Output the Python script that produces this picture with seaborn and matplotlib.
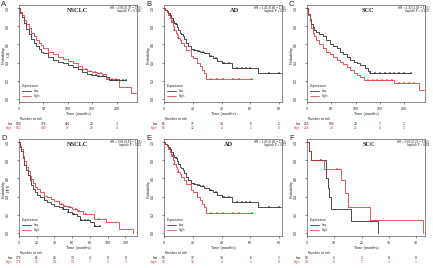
import numpy as np
import pandas as pd
import matplotlib
matplotlib.use("Agg")
import matplotlib.pyplot as plt
import seaborn as sns

sns.set_style("ticks")
plt.rcParams["font.family"] = ["Liberation Sans", "DejaVu Sans"]

LOW = "#1c1c1c"
HIGH = "#e3262b"
W, H = 433, 268

# ---- A: NSCLC OS ----
a_low_t = [0, 3, 6, 10, 15, 20, 25, 30, 35, 40, 45, 50, 60, 70, 80, 90, 100, 110, 120, 130, 140, 150, 160, 170, 178, 185, 220]
a_low_s = [1.0, 0.95, 0.90, 0.84, 0.77, 0.71, 0.66, 0.62, 0.58, 0.55, 0.52, 0.50, 0.46, 0.43, 0.41, 0.39, 0.37, 0.35, 0.33, 0.30, 0.27, 0.26, 0.255, 0.25, 0.24, 0.21, 0.21]
a_low_c = [150, 158, 165, 172, 190, 198, 206, 214, 220]
a_high_t = [0, 3, 6, 10, 15, 20, 25, 30, 35, 40, 45, 50, 60, 70, 80, 90, 100, 110, 120, 130, 140, 150, 160, 170, 178, 205, 230, 240]
a_high_s = [1.0, 0.96, 0.92, 0.87, 0.82, 0.78, 0.73, 0.69, 0.65, 0.62, 0.59, 0.56, 0.52, 0.49, 0.46, 0.44, 0.42, 0.39, 0.36, 0.33, 0.31, 0.30, 0.29, 0.27, 0.22, 0.13, 0.065, 0.065]
a_high_c = [138, 146, 155, 168, 182, 190, 198]
a_ticks = [0, 50, 100, 150, 200]
a_risk_low = [964, 376, 116, 29, 3]
a_risk_high = [962, 430, 97, 28, 4]

# ---- B / E: AD ----
b_low_t = [0, 1, 2, 3, 4, 5, 6, 7, 8, 9, 10, 11, 12, 13, 14, 15, 17, 19, 21, 23, 25, 28, 31, 34, 37, 40, 47.5, 65, 81]
b_low_s = [1.0, 0.98, 0.97, 0.95, 0.92, 0.89, 0.86, 0.84, 0.82, 0.79, 0.76, 0.73, 0.71, 0.69, 0.66, 0.62, 0.58, 0.55, 0.54, 0.53, 0.52, 0.50, 0.47, 0.45, 0.42, 0.39, 0.34, 0.28, 0.28]
b_low_c = [4, 6, 8, 21, 24, 27, 33, 36, 42, 45, 51, 54, 57, 60, 73, 80]
b_high_t = [0, 1, 2, 3, 4, 5, 6, 7, 8, 9, 10, 11, 12, 14, 15, 18.5, 20, 23, 25, 26.5, 28, 29, 61]
b_high_s = [1.0, 0.98, 0.96, 0.93, 0.89, 0.85, 0.80, 0.76, 0.73, 0.70, 0.67, 0.65, 0.62, 0.58, 0.54, 0.47, 0.45, 0.39, 0.36, 0.32, 0.29, 0.22, 0.22]
b_high_c = [7, 10, 33, 37, 41, 48, 52, 61]
b_ticks = [0, 20, 40, 60, 80]
b_risk_low = [65, 37, 14, 6, 1]
b_risk_high = [56, 12, 4, 1, 0]

# ---- C: SCC OS ----
c_low_t = [0, 3, 6, 9, 12, 15, 19, 25, 33, 40, 47, 54, 61, 68, 75, 82, 89, 96, 103, 110, 120, 125, 130, 215]
c_low_s = [1.0, 0.94, 0.88, 0.83, 0.79, 0.76, 0.74, 0.72, 0.69, 0.65, 0.61, 0.58, 0.56, 0.52, 0.49, 0.46, 0.43, 0.41, 0.39, 0.37, 0.34, 0.31, 0.28, 0.28]
c_low_c = [130, 140, 150, 160, 170, 180, 190, 200, 215]
c_high_t = [0, 3, 6, 9, 12, 15, 19, 25, 33, 40, 47, 54, 61, 68, 75, 82, 89, 96, 103, 110, 117, 180, 230, 240]
c_high_s = [1.0, 0.93, 0.86, 0.78, 0.73, 0.69, 0.65, 0.60, 0.56, 0.52, 0.49, 0.46, 0.43, 0.41, 0.38, 0.35, 0.32, 0.29, 0.26, 0.24, 0.21, 0.17, 0.10, 0.10]
c_high_c = [125, 135, 145, 155, 165, 175, 190, 200, 210, 220]
c_ticks = [0, 50, 100, 150, 200]
c_risk_low = [255, 105, 23, 7, 1]
c_risk_high = [256, 70, 21, 6, 3]

# ---- D: NSCLC PFS ----
d_low_t = [0, 1, 2, 4, 6, 8, 10, 12, 14, 16, 18, 20, 24, 28, 32, 36, 40, 45, 50, 55, 60, 65, 69, 80, 84, 91]
d_low_s = [1.0, 0.95, 0.90, 0.82, 0.75, 0.69, 0.64, 0.58, 0.53, 0.48, 0.45, 0.42, 0.39, 0.36, 0.34, 0.32, 0.30, 0.28, 0.26, 0.23, 0.21, 0.19, 0.14, 0.12, 0.08, 0.08]
d_low_c = [50, 55, 62, 70, 74, 78, 86, 91]
d_high_t = [0, 1, 2, 4, 6, 8, 10, 12, 14, 16, 18, 20, 24, 28, 32, 36, 40, 45, 50, 55, 60, 65, 72, 84, 98, 113, 128, 129]
d_high_s = [1.0, 0.96, 0.92, 0.85, 0.79, 0.73, 0.68, 0.63, 0.59, 0.55, 0.51, 0.48, 0.45, 0.41, 0.39, 0.37, 0.35, 0.32, 0.30, 0.28, 0.26, 0.24, 0.21, 0.15, 0.12, 0.04, 0.0, 0.0]
d_high_c = [48, 52, 58, 64, 68, 76, 90]
d_ticks = [0, 20, 40, 60, 80, 100, 120]
d_risk_low = [172, 61, 26, 13, 4, 0, 0]
d_risk_high = [172, 71, 29, 13, 7, 2, 1]

# ---- F: SCC PFS ----
f_low_t = [0, 0.8, 1.5, 7.0, 7.6, 8.1, 8.7, 16.3, 26.0]
f_low_s = [1.0, 0.9, 0.8, 0.6, 0.5, 0.4, 0.267, 0.133, 0.0]
f_low_c = [5.0]
f_high_t = [0, 0.6, 1.5, 6.2, 12.6, 13.8, 15.0, 23.2, 42.5]
f_high_s = [1.0, 0.9, 0.8, 0.7, 0.58, 0.44, 0.29, 0.145, 0.0]
f_high_c = [11.0]
f_ticks = [0, 10, 20, 30, 40]
f_risk_low = [10, 2, 1, 0, 0]
f_risk_high = [10, 6, 2, 1, 1]

hr_a = ["HR = 0.85 (0.76 \u2212 0.97)", "logrank P = 0.016"]
hr_b = ["HR = 1.41 (0.86 \u2212 2.33)", "logrank P = 0.17"]
hr_c = ["HR = 1.32 (1.04 \u2212 1.67)", "logrank P = 0.022"]
hr_d = ["HR = 0.81 (0.63 \u2212 1.05)", "logrank P = 0.11"]
hr_f = ["HR = 0.65 (0.25 \u2212 1.62)", "logrank P = 0.41"]

panels = [
    ("A", "NSCLC", 78, "OS", a_low_t, a_low_s, a_low_c, a_high_t, a_high_s, a_high_c, a_ticks, 242, a_risk_low, a_risk_high, hr_a),
    ("B", "AD", 89, "", b_low_t, b_low_s, b_low_c, b_high_t, b_high_s, b_high_c, b_ticks, 82, b_risk_low, b_risk_high, hr_b),
    ("C", "SCC", 80, "", c_low_t, c_low_s, c_low_c, c_high_t, c_high_s, c_high_c, c_ticks, 243, c_risk_low, c_risk_high, hr_c),
    ("D", "NSCLC", 78, "PFS", d_low_t, d_low_s, d_low_c, d_high_t, d_high_s, d_high_c, d_ticks, 133, d_risk_low, d_risk_high, hr_d),
    ("E", "AD", 84, "", b_low_t, b_low_s, b_low_c, b_high_t, b_high_s, b_high_c, b_ticks, 82, b_risk_low, b_risk_high, hr_b),
    ("F", "SCC", 81, "", f_low_t, f_low_s, f_low_c, f_high_t, f_high_s, f_high_c, f_ticks, 43.3, f_risk_low, f_risk_high, hr_f),
]

fig = plt.figure(figsize=(W / 100, H / 100), dpi=100)
fig.patch.set_facecolor("white")


def fpos(x, y):
    return x / W, 1 - y / H


def step_at(t, s, c):
    idx = np.searchsorted(np.array(t), np.array(c), side="right") - 1
    return np.array(s)[idx]


for i, p in enumerate(panels):
    (letter, title, tcx, ytag, lt, ls, lc, ht, hs, hc, ticks, xmax, rl, rh, hr) = p
    x0 = [0, 145, 288][i % 3]
    y0 = [0, 134][i // 3]
    ax = fig.add_axes([(x0 + 19) / W, 1 - (y0 + 102) / H, 118 / W, 97 / H])

    for t, s, c, col, lab in [(lt, ls, lc, LOW, "low"), (ht, hs, hc, HIGH, "high")]:
        df = pd.DataFrame({"t": t, "s": s})
        sns.lineplot(data=df, x="t", y="s", drawstyle="steps-post", estimator=None,
                     sort=False, color=col, lw=0.55, ax=ax, label=lab)
        sns.scatterplot(x=c, y=step_at(t, s, c), marker="+", s=3, color=col,
                        linewidth=0.35, ax=ax, legend=False)

    ax.set_xlim(0, xmax)
    ax.set_ylim(-0.035, 1.035)
    ax.set_xticks(ticks)
    ax.set_xticklabels([str(v) for v in ticks])
    ax.set_yticks([0, 0.2, 0.4, 0.6, 0.8, 1.0])
    ax.set_yticklabels(["0.0", "0.2", "0.4", "0.6", "0.8", "1.0"], rotation=90, va="center")
    ax.tick_params(axis="both", labelsize=2.6, length=1.4, width=0.4, color="#333333")
    ax.tick_params(axis="x", pad=2.2)
    ax.tick_params(axis="y", pad=5.5)
    for sp in ax.spines.values():
        sp.set_linewidth(0.4)
        sp.set_color("#333333")

    ax.set_xlabel("Time (months)", fontsize=2.8)
    ax.xaxis.set_label_coords(0.5, -12.0 / 97)
    ax.xaxis.label.set_va("center")
    ax.set_ylabel("Probability", fontsize=2.8)
    ax.yaxis.set_label_coords(-15.5 / 118, 0.48)
    ax.yaxis.label.set_va("center")

    leg = ax.legend(title="Expression", loc="lower left", bbox_to_anchor=(0.005, 0.02),
                    frameon=False, fontsize=2.4, title_fontsize=2.4, handlelength=2.8,
                    handletextpad=0.8, labelspacing=0.25, borderaxespad=0.2,
                    alignment="left")
    for ln in leg.get_lines():
        ln.set_linewidth(0.5)

    # panel letter, title, HR text
    fig.text(*fpos(x0 + 1, y0 + 5), letter, fontsize=5.5, ha="left", va="center")
    fig.text(*fpos(x0 + tcx, y0 + 10), title, fontsize=4.6, fontweight="bold",
             family=["Liberation Serif", "DejaVu Serif"], ha="center", va="center")
    fig.text(*fpos(x0 + 141, y0 + 7.5), hr[0], fontsize=2.2, ha="right", va="center")
    fig.text(*fpos(x0 + 141, y0 + 11.3), hr[1], fontsize=2.2, ha="right", va="center")
    if ytag:
        fig.text(*fpos(x0 + 8.5, y0 + 54), ytag, fontsize=3.6, rotation=90,
                 family=["Liberation Serif", "DejaVu Serif"], ha="center", va="center")

    # number at risk table
    fig.text(*fpos(x0 + 20, y0 + 119), "Number at risk", fontsize=2.4, ha="left", va="center")
    fig.text(*fpos(x0 + 12.5, y0 + 124), "low", fontsize=2.4, ha="right", va="center", color=LOW)
    fig.text(*fpos(x0 + 12.5, y0 + 128), "high", fontsize=2.4, ha="right", va="center", color=HIGH)
    trans = ax.get_xaxis_transform()
    for tk, nl, nh in zip(ticks, rl, rh):
        ax.text(tk, -(124 - 102) / 97, str(nl), transform=trans, fontsize=2.4,
                ha="center", va="center", color=LOW, clip_on=False)
        ax.text(tk, -(128 - 102) / 97, str(nh), transform=trans, fontsize=2.4,
                ha="center", va="center", color=HIGH, clip_on=False)

fig.savefig("out.png", dpi=100, facecolor="white")
